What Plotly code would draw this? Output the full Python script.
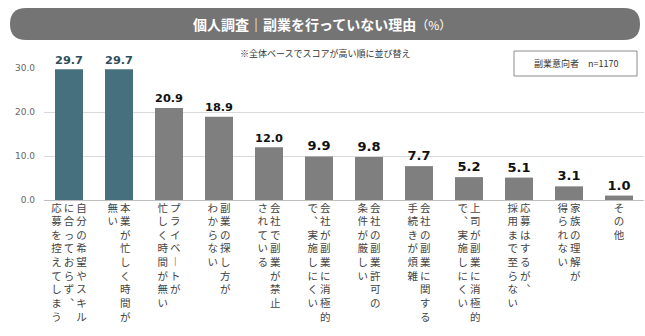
import plotly.graph_objects as go

categories = [
    ["自分の希望やスキル", "に合っておらず、", "応募を控えてしまう"],
    ["本業が忙しく時間が", "無い"],
    ["プライベートが", "忙しく時間が無い"],
    ["副業の探し方が", "わからない"],
    ["会社で副業が禁止", "されている"],
    ["会社が副業に消極的", "で、実施しにくい"],
    ["会社の副業許可の", "条件が厳しい"],
    ["会社の副業に関する", "手続きが煩雑"],
    ["上司が副業に消極的", "で、実施しにくい"],
    ["応募はするが、", "採用まで至らない"],
    ["家族の理解が", "得られない"],
    ["その他"],
]
values = [29.7, 29.7, 20.9, 18.9, 12.0, 9.9, 9.8, 7.7, 5.2, 5.1, 3.1, 1.0]
highlight = [True, True] + [False] * 10
y_ticks = [0, 10, 20, 30]
title_main = "個人調査｜副業を行っていない理由"
title_unit = "（%）"
note_text = "※全体ベースでスコアが高い順に並び替え"
base_text = "副業意向者　n=1170"

VERT = {"ー": "︱", "、": "︑"}


def vertical(cols):
    cols = ["".join(VERT.get(c, c) for c in col) for col in cols]
    n = max(len(c) for c in cols)
    rows = []
    for i in range(n):
        cells = []
        for col in reversed(cols):
            cells.append(col[i] if i < len(col) else "\u3000")
        rows.append("\u2009".join(cells))
    return "<br>".join(rows)


ticktext = [vertical(c) for c in categories]
xs = list(range(len(values)))

bar_colors = ["#47707f" if h else "#7f7f7f" for h in highlight]
label_colors = ["#2f4d5b" if h else "#111111" for h in highlight]

FONT = "Noto Sans CJK JP, Noto Sans, sans-serif"

fig = go.Figure(go.Bar(
    x=xs, y=values,
    marker=dict(color=bar_colors, line=dict(width=0)),
    texttemplate="<b>%{y:.1f}</b>",
    textposition="outside",
    textfont=dict(size=13, color=label_colors, family="Verdana, DejaVu Sans, sans-serif"),
    cliponaxis=False,
    width=0.56,
))

# plot area: x 44..644, y 68..200 (px)
L, R, T, B = 44, 1, 68, 136
W, H = 645, 336
pw, ph = W - L - R, H - T - B


def px2x(px):
    return (px - L) / pw


def py2y(py):
    return (H - B - py) / ph


# rounded title bar
x0, x1, y0, y1, r = 10, 640, 8, 40, 16
rx, ry = r / pw, r / ph
X0, X1, Y0, Y1 = px2x(x0), px2x(x1), py2y(y0), py2y(y1)
path = (f"M {X0+rx},{Y0} L {X1-rx},{Y0} Q {X1},{Y0} {X1},{Y0-ry} "
        f"L {X1},{Y1+ry} Q {X1},{Y1} {X1-rx},{Y1} L {X0+rx},{Y1} "
        f"Q {X0},{Y1} {X0},{Y1+ry} L {X0},{Y0-ry} Q {X0},{Y0} {X0+rx},{Y0} Z")
fig.add_shape(type="path", path=path, xref="paper", yref="paper",
              fillcolor="#747474", line=dict(width=0), layer="below")

fig.add_annotation(x=px2x(322), y=py2y(24), xref="paper", yref="paper",
                   text=f"<b>{title_main}</b><span style='font-size:12px'>{title_unit}</span>",
                   showarrow=False, font=dict(size=14, color="white", family=FONT),
                   xanchor="center", yanchor="middle")

fig.add_annotation(x=px2x(325), y=py2y(53), xref="paper", yref="paper",
                   text=note_text, showarrow=False,
                   font=dict(size=9, color="#333333", family=FONT),
                   xanchor="center", yanchor="middle")

# base box
fig.add_shape(type="rect", xref="paper", yref="paper",
              x0=px2x(514), x1=px2x(637), y0=py2y(51), y1=py2y(76),
              line=dict(color="#8c8c8c", width=1), fillcolor="white")
fig.add_annotation(x=px2x(575.5), y=py2y(63.5), xref="paper", yref="paper",
                   text=base_text, showarrow=False,
                   font=dict(size=9, color="#333333", family=FONT),
                   xanchor="center", yanchor="middle")

fig.update_layout(
    width=W, height=H,
    margin=dict(l=L, r=R, t=T, b=B),
    paper_bgcolor="white", plot_bgcolor="white",
    showlegend=False,
    font=dict(family=FONT),
    xaxis=dict(
        tickmode="array", tickvals=xs, ticktext=ticktext, tickangle=0,
        tickfont=dict(size=10.5, color="#444444", family=FONT),
        range=[-0.5, len(values) - 0.5],
        showgrid=False, zeroline=False, showline=False, ticks="",
    ),
    yaxis=dict(
        range=[0, 30], tickvals=y_ticks, tickformat=".1f",
        tickfont=dict(size=9, color="#666666", family="Verdana, DejaVu Sans, sans-serif"),
        showgrid=True, gridcolor="#d9d9d9", gridwidth=1,
        zeroline=True, zerolinecolor="#bfbfbf", zerolinewidth=1,
        showline=False, ticks="", ticklabelstandoff=8,
    ),
)

fig.write_html("out.html")
